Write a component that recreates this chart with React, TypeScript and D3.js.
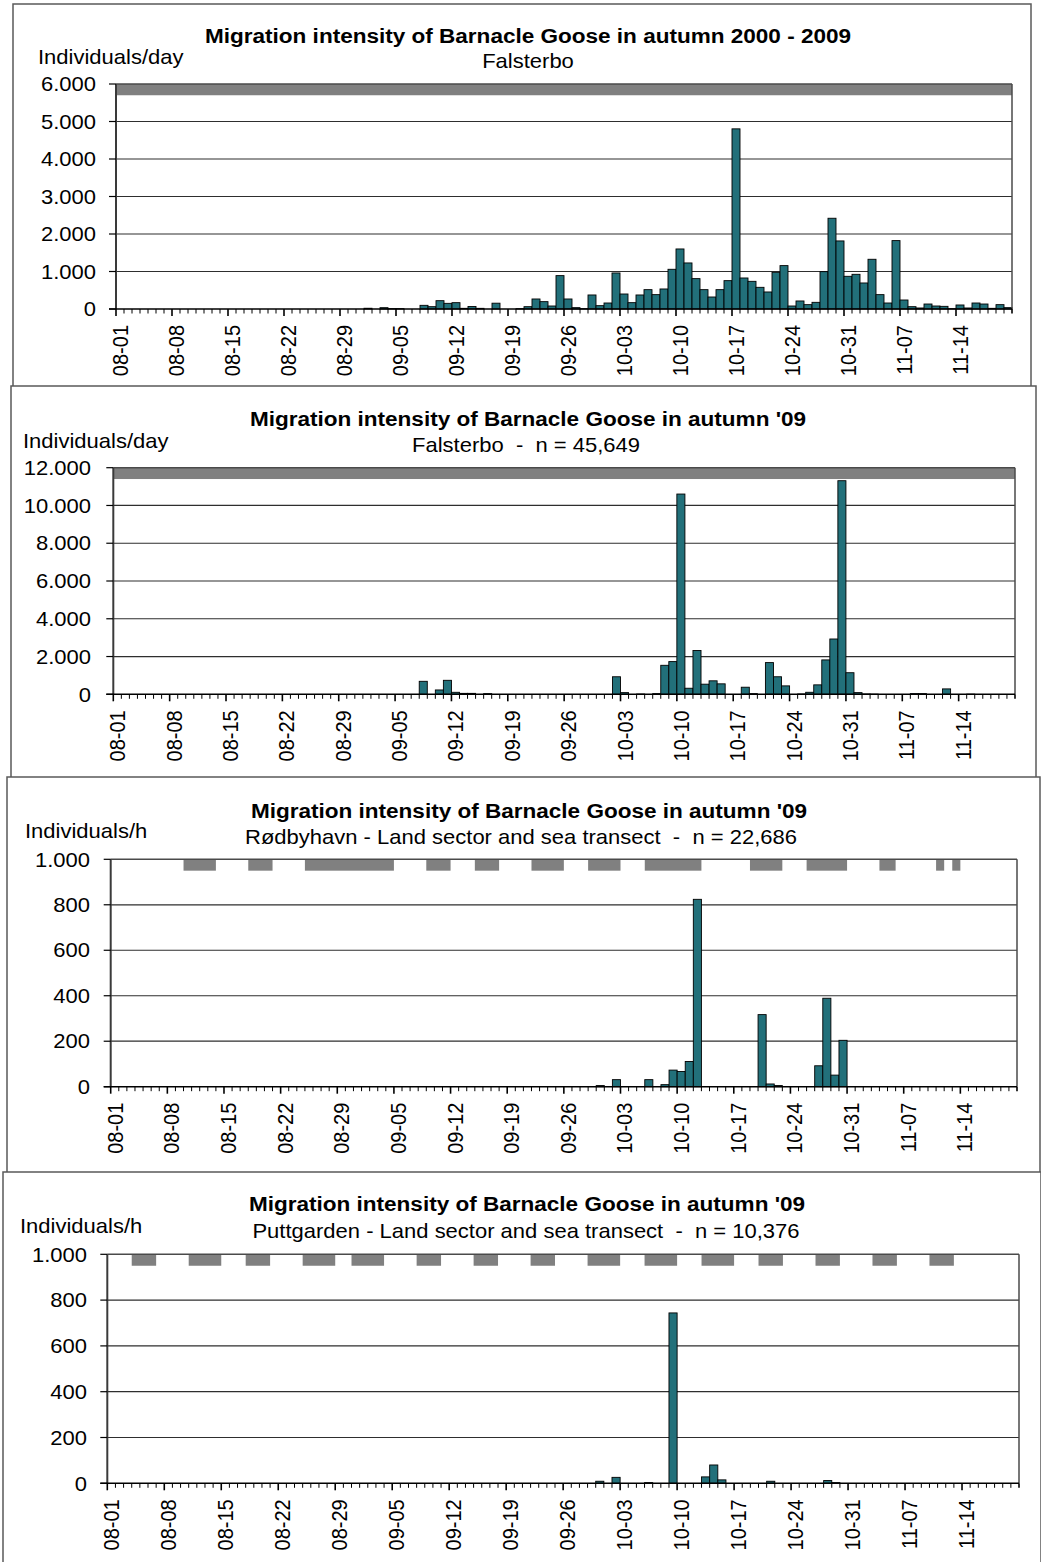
import React from "react";
import * as d3 from "d3";

// ---------- data ----------
const DAYS = 112; // 08-01 .. 11-20
const dayLabels = ["08-01","08-08","08-15","08-22","08-29","09-05","09-12","09-19","09-26","10-03","10-10","10-17","10-24","10-31","11-07","11-14"];
const labelEvery = 7;

// Panel 1: Falsterbo 2000-2009 (day index from 08-01)
const p1Days = [31,33,34,35,38,39,40,41,42,43,44,45,47,50,51,52,53,54,55,56,57,58,59,60,61,62,63,64,65,66,67,68,69,70,71,72,73,74,75,76,77,78,79,80,81,82,83,84,85,86,87,88,89,90,91,92,93,94,95,96,97,98,99,100,101,102,103,104,105,106,107,108,109,110,111];
const p1Values = [20,35,10,10,98,62,222,151,169,18,66,18,155,9,62,267,196,80,890,267,36,9,374,89,160,961,400,169,374,516,383,534,1059,1601,1228,810,516,320,516,756,4804,827,738,578,454,979,1157,80,214,116,178,996,2420,1815,872,925,694,1326,383,160,1824,240,62,27,133,80,71,9,107,27,160,133,18,116,36];
const p1Obs = [[0, 111]];
const p1Ticks = [0,1000,2000,3000,4000,5000,6000];
const p1TickLabels = ["0","1.000","2.000","3.000","4.000","5.000","6.000"];

// Panel 2: Falsterbo '09
const p2Days = [38,40,41,42,43,44,46,62,63,65,67,68,69,70,71,72,73,74,75,78,79,81,82,83,85,86,87,88,89,90,91,92,93,94,99,100,103,106];
const p2Values = [688,230,741,106,50,50,35,929,89,15,36,1536,1732,10605,321,2321,536,714,554,375,36,1679,929,446,18,107,500,1821,2929,11311,1143,89,18,10,36,36,286,10];
const p2Obs = [[0, 111]];
const p2Ticks = [0,2000,4000,6000,8000,10000,12000];
const p2TickLabels = ["0","2.000","4.000","6.000","8.000","10.000","12.000"];

// Panel 3: Rødbyhavn '09
const p3Days = [60,62,66,68,69,70,71,72,80,81,82,87,88,89,90];
const p3Values = [5,31,31,9,73,67,111,824,317,12,5,92,389,51,204];
const p3Obs = [[9,12],[17,19],[24,34],[39,41],[45,47],[52,55],[59,62],[66,72],[79,82],[86,90],[95,96],[102,102],[104,104]];
const p3Ticks = [0,200,400,600,800,1000];
const p3TickLabels = ["0","200","400","600","800","1.000"];

// Panel 4: Puttgarden '09
const p4Days = [60,62,66,69,73,74,75,81,88,89];
const p4Values = [9,26,3,744,28,80,15,9,12,3];
const p4Obs = [[3,5],[10,13],[17,19],[24,27],[30,33],[38,40],[45,47],[52,54],[59,62],[66,69],[73,76],[80,82],[87,89],[94,96],[101,103]];
const p4Ticks = p3Ticks;
const p4TickLabels = p3TickLabels;

const titles = [
  "Migration intensity of Barnacle Goose in autumn 2000 - 2009",
  "Migration intensity of Barnacle Goose in autumn '09",
  "Migration intensity of Barnacle Goose in autumn '09",
  "Migration intensity of Barnacle Goose in autumn '09",
];
const subtitles = [
  "Falsterbo",
  "Falsterbo  -  n = 45,649",
  "Rødbyhavn - Land sector and sea transect  -  n = 22,686",
  "Puttgarden - Land sector and sea transect  -  n = 10,376",
];
const yNames = ["Individuals/day", "Individuals/day", "Individuals/h", "Individuals/h"];

// ---------- layout ----------
const FONT = "'Liberation Sans', Arial, Helvetica, sans-serif";
const SX = 1.1;
const BAR_FILL = "#22707a";
const OBS_FILL = "#808080";

const layouts = [
  { frame: [13, 4, 1031, 388], left: 116, right: 1012, top: 84, bottom: 309, titleY: 43, subY: 68, nameX: 38, nameY: 64, tickRight: 96, titleX: 528, subX: 528 },
  { frame: [11, 386, 1036, 779], left: 113.3, right: 1015, top: 467.7, bottom: 694.3, titleY: 426, subY: 452, nameX: 23, nameY: 448, tickRight: 91, titleX: 528, subX: 526 },
  { frame: [7, 777, 1040, 1174], left: 110.7, right: 1017, top: 859.3, bottom: 1086.7, titleY: 818, subY: 844, nameX: 25, nameY: 838, tickRight: 90, titleX: 529, subX: 521 },
  { frame: [3, 1172, 1041, 1563], left: 107.3, right: 1019, top: 1254.3, bottom: 1483.3, titleY: 1211, subY: 1238, nameX: 20, nameY: 1233, tickRight: 87, titleX: 527, subX: 526 },
];

const panelsData = [
  { days: p1Days, values: p1Values, obs: p1Obs, ticks: p1Ticks, tickLabels: p1TickLabels },
  { days: p2Days, values: p2Values, obs: p2Obs, ticks: p2Ticks, tickLabels: p2TickLabels },
  { days: p3Days, values: p3Values, obs: p3Obs, ticks: p3Ticks, tickLabels: p3TickLabels },
  { days: p4Days, values: p4Values, obs: p4Obs, ticks: p4Ticks, tickLabels: p4TickLabels },
];

function T(props: { x: number; y: number; size: number; anchor?: string; bold?: boolean; rot?: boolean; children: any }) {
  const { x, y, size, anchor = "start", bold = false, rot = false, children } = props;
  return (
    <text
      transform={`translate(${x},${y}) scale(${SX},1)${rot ? " rotate(-90)" : ""}`}
      fontSize={size}
      textAnchor={anchor as any}
      fontWeight={bold ? "bold" : "normal"}
      fontFamily={FONT}
      fill="#000"
      style={{ whiteSpace: "pre" }}
      xmlSpace="preserve"
    >
      {children}
    </text>
  );
}

function Panel({ idx }: { idx: number }) {
  const g = layouts[idx];
  const d = panelsData[idx];
  const yMax = d.ticks[d.ticks.length - 1];
  const x = d3.scaleBand<number>().domain(d3.range(DAYS)).range([g.left, g.right]).paddingInner(0).paddingOuter(0);
  const bw = x.bandwidth();
  const y = d3.scaleLinear().domain([0, yMax]).range([g.bottom, g.top]);
  const [fx0, fy0, fx1, fy1] = g.frame;
  const edges = d3.range(DAYS + 1).map((i) => g.left + i * bw);

  return (
    <g>
      <rect x={fx0} y={fy0} width={fx1 - fx0} height={fy1 - fy0} fill="#fff" stroke="#5a5a5a" strokeWidth={1.5} />
      {d.obs.map(([a, b], i) => (
        <rect key={"o" + i} x={x(a)!} y={y(yMax)} width={x(b)! + bw - x(a)!} height={y(yMax * 0.95) - y(yMax)} fill={OBS_FILL} />
      ))}
      {d.ticks.slice(1, -1).map((t) => (
        <line key={"g" + t} x1={g.left} x2={g.right} y1={y(t)} y2={y(t)} stroke="#2e2e2e" strokeWidth={1.2} />
      ))}
      {d.days.map((day, i) => (
        <rect key={"b" + i} x={x(day)!} y={y(d.values[i])} width={bw} height={Math.max(0, y(0) - y(d.values[i]))} fill={BAR_FILL} stroke="#000" strokeWidth={0.9} />
      ))}
      <line x1={g.left} x2={g.right} y1={g.top} y2={g.top} stroke="#4a4a4a" strokeWidth={1.5} />
      <line x1={g.right} x2={g.right} y1={g.top} y2={g.bottom} stroke="#4a4a4a" strokeWidth={1.5} />
      <line x1={g.left} x2={g.left} y1={g.top} y2={g.bottom} stroke="#3a3a3a" strokeWidth={2} />
      <line x1={g.left - 7} x2={g.right} y1={g.bottom} y2={g.bottom} stroke="#000" strokeWidth={1.5} />
      {d.ticks.map((t, i) => (
        <g key={"yt" + t}>
          <line x1={g.left - 7} x2={g.left} y1={y(t)} y2={y(t)} stroke="#000" strokeWidth={1.2} />
          <T x={g.tickRight} y={y(t) + 7.2} size={20} anchor="end">{d.tickLabels[i]}</T>
        </g>
      ))}
      {edges.map((ex, i) => (
        <line key={"xt" + i} x1={ex} x2={ex} y1={g.bottom} y2={g.bottom + (i % labelEvery === 0 && i < DAYS ? 7 : 4.5)} stroke="#000" strokeWidth={i % labelEvery === 0 ? 1.6 : 1} />
      ))}
      {dayLabels.map((lab, i) => (
        <T key={"xl" + i} x={x(i * labelEvery)! + 12} y={g.bottom + 16} size={20} anchor="end" rot>{lab}</T>
      ))}
      <T x={g.titleX} y={g.titleY} size={20.5} anchor="middle" bold>{titles[idx]}</T>
      <T x={g.subX} y={g.subY} size={20} anchor="middle">{subtitles[idx]}</T>
      <T x={g.nameX} y={g.nameY} size={20}>{yNames[idx]}</T>
    </g>
  );
}

export default function App() {
  return (
    <svg width={1041} height={1562} style={{ position: "absolute", left: 0, top: 0, background: "#fff" }}>
      <rect x={0} y={0} width={1041} height={1562} fill="#fff" />
      {layouts.map((_, i) => (
        <Panel key={i} idx={i} />
      ))}
    </svg>
  );
}
